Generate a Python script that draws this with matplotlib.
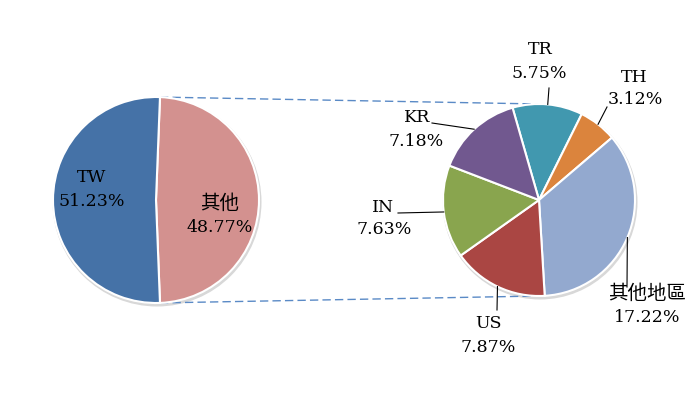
import numpy as np
import matplotlib
matplotlib.use("Agg")
import matplotlib.pyplot as plt
from matplotlib.patches import Circle

plt.rcParams['font.family'] = ['DejaVu Serif', 'Noto Sans CJK TC']

# main pie
main_labels = ['其他', 'TW']
main_values = [48.77, 51.23]
main_colors = ['#d3918f', '#4572a7']

# breakdown of 其他
sub_labels = ['TR', 'TH', '其他地區', 'US', 'IN', 'KR']
sub_values = [5.75, 3.12, 17.22, 7.87, 7.63, 7.18]
sub_colors = ['#4198af', '#db843d', '#93a9cf', '#aa4643', '#89a54e', '#71588f']

W, H = 697, 397


def py(y):
    # pixel row -> data y
    return H - y


fig = plt.figure(figsize=(6.97, 3.97), dpi=100)
ax = fig.add_axes([0, 0, 1, 1])

c1, r1 = (156, py(200)), 103
c2, r2 = (539, py(200)), 96

for c, r in [(c1, r1), (c2, r2)]:
    ax.add_patch(Circle((c[0] + 1, c[1] - 2), r + 1.5, color='#b8b8b8', alpha=0.55, zorder=0, lw=0))

wp = dict(edgecolor='white', linewidth=1.5)
start1 = -main_values[0] / sum(main_values) * 180
w1, _ = ax.pie(main_values, colors=main_colors, startangle=start1, center=c1,
               radius=r1, wedgeprops=wp, frame=True)
w2, _ = ax.pie(sub_values, colors=sub_colors, startangle=106, counterclock=False,
               center=c2, radius=r2, wedgeprops=wp, frame=True)

# connector lines between the pies
t = np.deg2rad(w1[0].theta2)
ax.plot([c1[0] + r1 * np.cos(t), c2[0]], [c1[1] + r1 * np.sin(t), c2[1] + r2],
        ls=(0, (6, 3)), color='#5a8ac6', lw=1, zorder=0.5)
t = np.deg2rad(w1[0].theta1)
ax.plot([c1[0] + r1 * np.cos(t), c2[0]], [c1[1] + r1 * np.sin(t), c2[1] - r2],
        ls=(0, (6, 3)), color='#5a8ac6', lw=1, zorder=0.5)


def put(name, pct, pos1, pos2):
    cjk = any(ord(ch) > 0x2e80 for ch in name)
    ax.text(pos1[0], py(pos1[1]), name, ha='center', va='center',
            fontsize=14 if cjk else 12.5,
            family=['Noto Sans CJK TC'] if cjk else ['DejaVu Serif'])
    ax.text(pos2[0], py(pos2[1]), '%.2f%%' % pct, ha='center', va='center', fontsize=12.5)


put('TW', main_values[1], (92, 178), (92, 201))
put('其他', main_values[0], (220, 203), (220, 227))

label_pos = {
    'TR': ((540, 49), (539, 73)),
    'TH': ((634, 77), (635, 100)),
    '其他地區': ((647, 293), (647, 318)),
    'US': ((488, 323), (488, 347)),
    'IN': ((383, 207), (384, 230)),
    'KR': ((417, 118), (416, 142)),
}
leader_start = {
    'TR': (549, 88), 'TH': (607, 107), '其他地區': (627, 287),
    'US': (497, 310), 'IN': (398, 213), 'KR': (432, 123),
}

for w, name, val in zip(w2, sub_labels, sub_values):
    put(name, val, *label_pos[name])
    mid = np.deg2rad((w.theta1 + w.theta2) / 2)
    sx, sy = leader_start[name]
    ax.plot([sx, c2[0] + r2 * np.cos(mid)], [py(sy), c2[1] + r2 * np.sin(mid)],
            color='black', lw=0.8, zorder=3)

ax.set_xlim(0, W)
ax.set_ylim(0, H)
ax.set_aspect('equal')
ax.axis('off')

fig.savefig('out.png', dpi=100)
